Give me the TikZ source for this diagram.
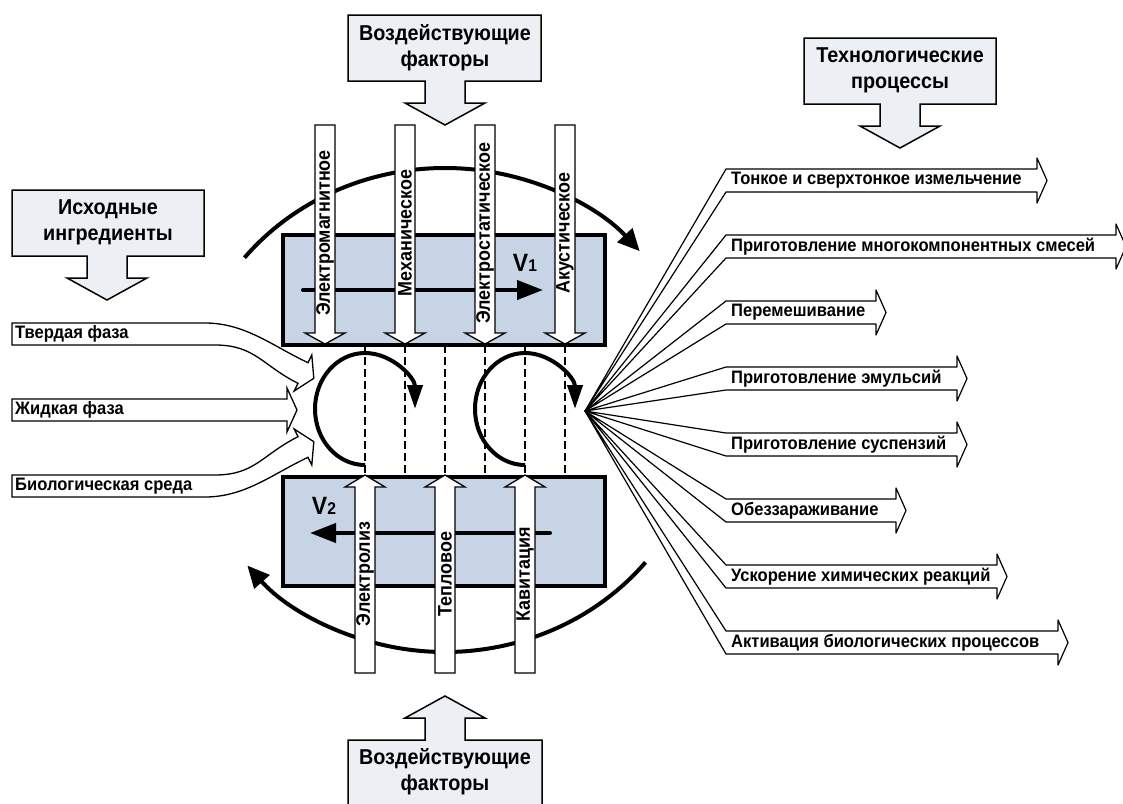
\documentclass[tikz,border=0pt]{standalone}
\usepackage{fontspec}
\setmainfont{Liberation Sans}[FakeStretch=0.92]
\usetikzlibrary{arrows.meta}
\definecolor{boxblue}{RGB}{198,212,229}
\definecolor{callfill}{RGB}{236,240,245}
\begin{document}
\begin{tikzpicture}[x=1pt,y=-1pt,
  lab/.style={font=\fontsize{18}{20}\selectfont\bfseries, inner sep=0pt, anchor=west},
  vlab/.style={font=\fontsize{19.5}{21}\selectfont\bfseries, inner sep=0pt, rotate=90},
  ctext/.style={font=\fontsize{21.5}{26}\selectfont\bfseries, align=center, inner sep=0pt},
  callout/.style={draw=black, fill=callfill, line width=1.5pt, line join=miter},
  whitearrow/.style={draw=black, fill=white, line width=1.3pt, line join=miter},
  fan/.style={draw=black, line width=1.2pt, line join=round},
  bigarc/.style={line width=4pt, -{Triangle[length=22pt,width=20pt]}},
  circarrow/.style={line width=4pt, -{Triangle[length=24pt,width=15pt]}},
  flowarrow/.style={line width=4pt, line cap=round, -{Triangle[length=26pt,width=19pt]}},
  bluebox/.style={draw=black, fill=boxblue, line width=3.5pt},
  dashline/.style={line width=1.5pt, dash pattern=on 8pt off 4pt},
  vsub/.style={inner sep=0pt, font=\bfseries}
]
\useasboundingbox (0,0) rectangle (1123,803);
\clip (0,0) rectangle (1123,803);

% big circulation arcs
\draw[bigarc] (244.5,257.7) arc[start angle=-141, end angle=-41, x radius=258, y radius=242];
\draw[bigarc] (645.5,562.3) arc[start angle=39, end angle=140, x radius=258, y radius=242];

% working boxes
\draw[bluebox] (283,235) rectangle (605,345);
\draw[bluebox] (283,477) rectangle (605,586);

% flow arrows in the boxes
\coordinate (v1s) at (303,290);
\coordinate (v1e) at (543,290);
\coordinate (v2s) at (550,533);
\coordinate (v2e) at (310,533);
\draw[flowarrow] (v1s) -- (v1e);
\draw[flowarrow] (v2s) -- (v2e);
\node[vsub] (v1) at (525,263) {\fontsize{25}{25}\selectfont V\fontsize{17}{17}\selectfont 1};
\node[vsub] (v2) at (324,506) {\fontsize{25}{25}\selectfont V\fontsize{17}{17}\selectfont 2};

% dashed lines
\foreach \x in {365,405,445,485,525,565}
  \draw[dashline] (\x,345) -- (\x,477);

% circular arrows
\draw[circarrow] (365,465) arc[start angle=90, end angle=360, x radius=50, y radius=56];
\draw[circarrow] (525,465) arc[start angle=90, end angle=360, x radius=50, y radius=56];

% top factor arrows
\foreach \c/\t/\n in {325/Электромагнитное/ta, 405/Механическое/tb, 485/Электростатическое/tc, 565/Акустическое/td}{
  \draw[whitearrow] (\c-10,125) -- (\c+10,125) -- (\c+10,333) -- (\c+20,333) -- (\c,344) -- (\c-20,333) -- (\c-10,333) -- cycle;
  \node[vlab] (\n) at (\c,233) {\t};
}
% bottom factor arrows
\foreach \c/\t/\n in {365/Электролиз/ba, 445/Тепловое/bb, 525/Кавитация/bc}{
  \draw[whitearrow] (\c-10,673) -- (\c+10,673) -- (\c+10,487) -- (\c+20,487) -- (\c,475) -- (\c-20,487) -- (\c-10,487) -- cycle;
  \node[vlab] (\n) at (\c,574) {\t};
}

% input arrows
\draw[whitearrow] (12,323) -- (205,323) .. controls (245,323) and (271.8,345.6) .. (308,362.7) -- (311.8,355) -- (313.8,378.3) -- (294.2,391) -- (298,383.3) .. controls (262.2,365.4) and (255,345) .. (215,345) -- (12,345) -- cycle;
\draw[whitearrow] (12,399) -- (287,399) -- (287,388) -- (297,410) -- (287,432) -- (287,421) -- (12,421) -- cycle;
\draw[whitearrow] (12,497) -- (205,497) .. controls (245,497) and (271.8,474.4) .. (308,457.3) -- (311.8,465) -- (313.8,441.7) -- (294.2,429) -- (298,436.7) .. controls (262.2,454.6) and (255,475) .. (215,475) -- (12,475) -- cycle;
\node[lab] (in1) at (15,334) {Твердая фаза};
\node[lab] (in2) at (15,410) {Жидкая фаза};
\node[lab] (in3) at (15,486) {Биологическая среда};

% output fan
\coordinate (P) at (585,411);
\foreach \t/\h/\txt/\n in {
  169/1037/Тонкое и сверхтонкое измельчение/o1,
  235/1116/Приготовление многокомпонентных смесей/o2,
  301/876/Перемешивание/o3,
  367/957/Приготовление эмульсий/o4,
  433/957/Приготовление суспензий/o5,
  499/896/Обеззараживание/o6,
  565/997/Ускорение химических реакций/o7,
  631/1058/Активация биологических процессов/o8}{
  \draw[fan] (P) -- (726,\t) -- (\h,\t) -- (\h,\t-11) -- (\h+10,\t+11.5) -- (\h,\t+34) -- (\h,\t+23) -- (726,\t+23) -- cycle;
  \node[lab] (\n) at (731,\t+11.5) {\txt};
}

% callouts
\draw[callout] (348,15) -- (541,15) -- (541,81) -- (465,81) -- (465,103) -- (485,103) -- (445,125) -- (405,103) -- (425,103) -- (425,81) -- (348,81) -- cycle;
\node[ctext] (c1) at (445,48) {Воздействующие\\факторы};

\draw[callout] (804,38) -- (996,38) -- (996,104) -- (920,104) -- (920,126) -- (940,126) -- (900,148) -- (860,126) -- (880,126) -- (880,104) -- (804,104) -- cycle;
\node[ctext] (c2) at (900,70) {Технологические\\процессы};

\draw[callout] (12,190) -- (204,190) -- (204,256) -- (127,256) -- (127,278) -- (147,278) -- (107,300) -- (67,278) -- (87,278) -- (87,256) -- (12,256) -- cycle;
\node[ctext] (c3) at (108,222) {Исходные\\ингредиенты};

\draw[callout] (348,820) -- (348,740) -- (425,740) -- (425,718) -- (405,718) -- (445,696) -- (485,718) -- (465,718) -- (465,740) -- (542,740) -- (542,820);
\node[ctext] (c4) at (445,772) {Воздействующие\\факторы};
\end{tikzpicture}
\end{document}
